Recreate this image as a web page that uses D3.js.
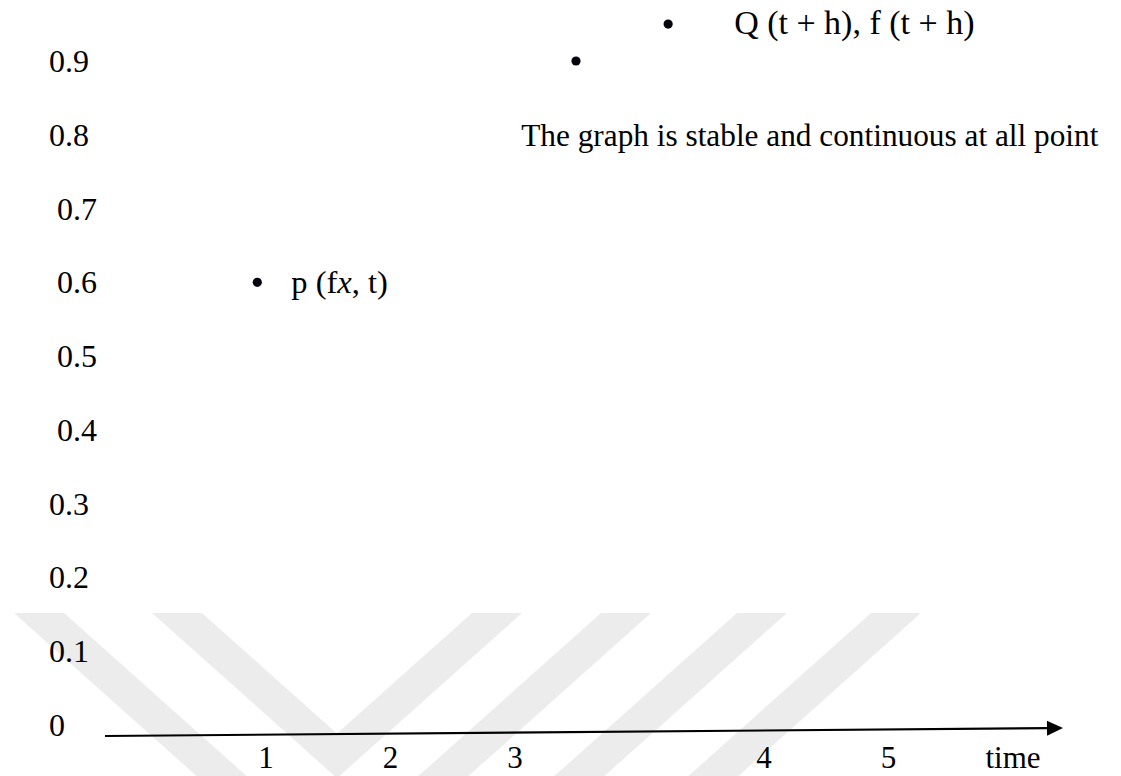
<!DOCTYPE html>
<html>
<head>
<meta charset="utf-8">
<script src="https://cdn.jsdelivr.net/npm/d3@7"></script>
<style>
  html, body { margin: 0; padding: 0; background: #fff; }
  svg { display: block; }
  text { font-family: "Liberation Serif", "Times New Roman", serif; fill: #000; white-space: pre; }
</style>
</head>
<body>
<svg id="chart" width="1121" height="776"></svg>
<script>
// Vertical axis: tick values and their printed labels
const yValues = [0, 0.1, 0.2, 0.3, 0.4, 0.5, 0.6, 0.7, 0.8, 0.9];
const yLabels = ["0", "0.1", "0.2", "0.3", " 0.4", " 0.5", " 0.6", " 0.7", "0.8", "0.9"];

// Horizontal axis: label slots along time (one slot left empty)
const xSlots = ["1", "2", "3", "", "4", "5", "time"];

// Plotted points: position along the time slots and value
const pointPos   = [-0.07, 2.49, 3.23];
const pointValue = [0.6, 0.9, 0.95];
const pointLabel = ["p", "", "Q"];

// Free annotation
const note = "The graph is stable and continuous at all point";

const W = 1121, H = 776;
const svg = d3.select("#chart");

const x = d3.scaleLinear().domain([0, xSlots.length - 1]).range([266, 1013]);
const y = d3.scaleLinear().domain([0, 0.9]).range([725, 61]);
const baselineShift = 11;   // label baseline sits below the value position

// Faint background watermark (diagonal bands)
(function drawWatermark() {
  const top = 613, bottom = H, band = 50, sDown = 1.12, sUp = -1.12;
  const g = svg.append("g").attr("fill", "#ececec");
  const band1 = (x0, s) => [[x0, top], [x0 + band, top],
    [x0 + band + s * (bottom - top), bottom], [x0 + s * (bottom - top), bottom]];
  // left down-slanting band
  g.append("polygon").attr("points", band1(14, sDown).join(" "));
  // the V
  const l = 152, r = 472;
  const tIn = (r - (l + band)) / (sDown - sUp);
  const tOut = ((r + band) - l) / (sDown - sUp);
  const v = [[l, top], [l + band, top], [l + band + sDown * tIn, top + tIn],
             [r, top], [r + band, top], [l + sDown * tOut, top + tOut]];
  g.append("polygon").attr("points", v.join(" "));
  // up-slanting bands
  [601, 737, 871].forEach(x0 => {
    g.append("polygon").attr("points", band1(x0, sUp).join(" "));
  });
})();

// Y tick labels
svg.append("g").selectAll("text")
  .data(yValues)
  .join("text")
  .attr("x", 49)
  .attr("y", d => y(d) + baselineShift)
  .attr("font-size", 32)
  .text((d, i) => yLabels[i]);

// X axis line with arrow
const axisY = y(0) + baselineShift;
const x0 = x.range()[0] - 161, x1 = x.range()[1] + 50;
const rise = 8;
const ang = Math.atan2(-rise, x1 - x0);
const headLen = 16, headHalf = 7.5;
svg.append("line")
  .attr("x1", x0).attr("y1", axisY)
  .attr("x2", x1 - headLen * Math.cos(ang) + 1).attr("y2", axisY - rise - headLen * Math.sin(ang))
  .attr("stroke", "#000").attr("stroke-width", 2.2);
{
  const tx = x1, ty = axisY - rise;
  const bx = tx - headLen * Math.cos(ang), by = ty - headLen * Math.sin(ang);
  const nx = -Math.sin(ang), ny = Math.cos(ang);
  svg.append("polygon")
    .attr("points", [[tx, ty], [bx + nx * headHalf, by + ny * headHalf], [bx - nx * headHalf, by - ny * headHalf]].join(" "))
    .attr("fill", "#000");
}

// X labels
svg.append("g").selectAll("text")
  .data(xSlots)
  .join("text")
  .attr("x", (d, i) => x(i))
  .attr("y", 768)
  .attr("text-anchor", "middle")
  .attr("font-size", 31)
  .text(d => d);

// Points
const pts = pointPos.map((p, i) => ({ p, v: pointValue[i], label: pointLabel[i] }));
svg.append("g").selectAll("circle")
  .data(pts)
  .join("circle")
  .attr("cx", d => x(d.p))
  .attr("cy", d => y(d.v))
  .attr("r", 4.6)
  .attr("fill", "#05050f");

// Point labels
const pP = pts[0];
const tp = svg.append("text")
  .attr("x", x(pP.p) + 34)
  .attr("y", y(pP.v) + 11)
  .attr("font-size", 32.5);
tp.append("tspan").text(pP.label + " (f");
tp.append("tspan").attr("font-style", "italic").text("x");
tp.append("tspan").text(", t)");

const qP = pts[2];
svg.append("text")
  .attr("x", x(qP.p) + 66)
  .attr("y", y(qP.v) + 10)
  .attr("font-size", 34)
  .text(qP.label + " (t + h), f (t + h)");

// Annotation
svg.append("text")
  .attr("x", x(2.05))
  .attr("y", y(0.8) + baselineShift)
  .attr("font-size", 31.3)
  .text(note);
</script>
</body>
</html>
